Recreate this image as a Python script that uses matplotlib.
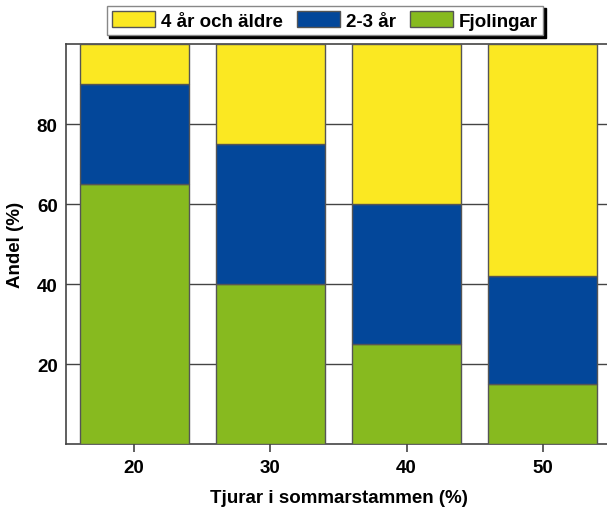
import matplotlib
matplotlib.use("Agg")
import matplotlib.pyplot as plt
import numpy as np

categories = ["20", "30", "40", "50"]
fjolingar = [65, 40, 25, 15]
tva_tre = [25, 35, 35, 27]
fyra_plus = [10, 25, 40, 58]

c_yellow = "#FBE822"
c_blue = "#03479A"
c_green = "#87BA1F"
edge = "#555555"

plt.rcParams['font.family'] = ['Liberation Sans', 'DejaVu Sans']
plt.rcParams['font.weight'] = 'bold'
fs = 13.5

fig = plt.figure(figsize=(6.07, 5.10), dpi=100)
ax = fig.add_axes([66/607, 65/510, (611-66)/607, 400/510])

x = np.arange(len(categories))
w = 0.8
b1 = ax.bar(x, fjolingar, w, color=c_green, edgecolor=edge, linewidth=1, zorder=3, label="Fjolingar")
b2 = ax.bar(x, tva_tre, w, bottom=fjolingar, color=c_blue, edgecolor=edge, linewidth=1, zorder=3, label="2-3 år")
bot2 = [a + b for a, b in zip(fjolingar, tva_tre)]
b3 = ax.bar(x, fyra_plus, w, bottom=bot2, color=c_yellow, edgecolor=edge, linewidth=1, zorder=3, label="4 år och äldre")

ax.set_xlim(-0.5, 3.5)
ax.set_ylim(0, 100)
ax.set_xticks(x)
ax.set_xticklabels(categories, fontsize=fs, fontweight='bold')
ax.set_yticks([20, 40, 60, 80])
ax.set_yticklabels(["20", "40", "60", "80"], fontsize=fs, fontweight='bold')
ax.tick_params(axis='y', length=0, pad=6)
ax.tick_params(axis='x', direction='out', length=5.5, width=1.2, color="#444444", pad=5.5)
ax.yaxis.grid(True, color="#444444", linewidth=1, zorder=0)
ax.set_axisbelow(True)

for s in ['left', 'top', 'bottom']:
    ax.spines[s].set_color("#444444")
    ax.spines[s].set_linewidth(1.2)
ax.spines['right'].set_visible(False)

ax.set_xlabel("Tjurar i sommarstammen (%)", fontsize=fs, fontweight='bold', labelpad=9)
ax.set_ylabel("Andel (%)", fontsize=fs, fontweight='bold', labelpad=9)

leg = fig.legend([b3, b2, b1], ["4 år och äldre", "2-3 år", "Fjolingar"],
                 loc='center', bbox_to_anchor=(325/607, 1 - 21.5/510),
                 ncol=3, fancybox=False, frameon=True, edgecolor="#888888",
                 framealpha=1, handlelength=2.3, handleheight=0.95,
                 handletextpad=0.3, columnspacing=0.75, borderpad=0.3,
                 borderaxespad=0, prop={'weight': 'bold', 'size': fs},
                 shadow={'facecolor': 'black', 'edgecolor': 'black', 'alpha': 1})
leg.get_frame().set_linewidth(1.0)

fig.savefig("out.png", dpi=100, facecolor="white")
